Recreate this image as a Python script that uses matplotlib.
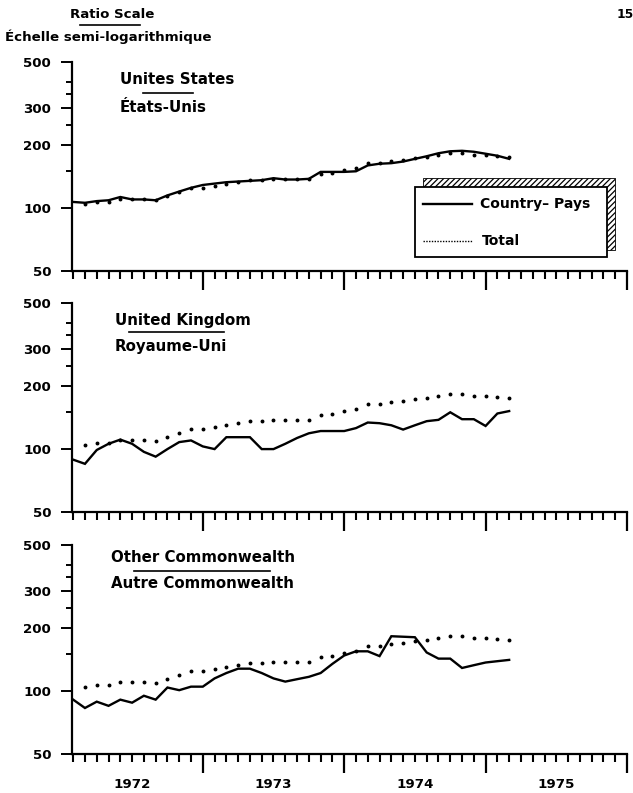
import numpy as np
import matplotlib
matplotlib.use("Agg")
import matplotlib.pyplot as plt
from matplotlib.lines import Line2D
from matplotlib.patches import Rectangle
from matplotlib.ticker import FixedLocator, FixedFormatter, NullFormatter

# monthly index values, month 1 = Feb 1972 ... month 38 = Mar 1975
months = np.arange(1, 39)
us = [107, 106, 108, 109, 113, 110, 110, 109, 115, 120,
      125, 129, 131, 133, 134, 135, 136, 139, 137, 137,
      138, 149, 149, 149, 150, 160, 163, 164, 167, 172,
      177, 183, 187, 188, 186, 182, 178, 172]
uk = [89, 85, 99, 106, 111, 106, 97, 92, 100, 108,
      110, 103, 100, 114, 114, 114, 100, 100, 106, 113,
      119, 122, 122, 122, 126, 134, 133, 130, 124, 130,
      136, 138, 150, 139, 139, 129, 148, 152]
other = [91, 83, 89, 85, 91, 88, 95, 91, 104, 101,
         105, 105, 115, 122, 128, 128, 122, 115, 111, 114,
         117, 122, 135, 148, 155, 155, 147, 183, 182, 181,
         153, 143, 143, 129, 133, 137, 139, 141]
# total starts one month later (Mar 1972)
total_months = np.arange(2, 39)
total = [105, 107, 107, 110, 110, 110, 109, 114, 120, 125,
         125, 127, 130, 134, 136, 136, 138, 138, 138, 138,
         146, 148, 152, 155, 165, 165, 168, 169, 174, 176,
         180, 184, 184, 180, 179, 178, 176]

years = [1972, 1973, 1974, 1975]
y_major = [50, 100, 200, 300, 500]
y_minor = [150, 250, 350, 400]
titles = [("Unites States", "États-Unis"),
          ("United Kingdom", "Royaume-Uni"),
          ("Other Commonwealth", "Autre Commonwealth")]

W, H = 633, 793
FONT = "DejaVu Sans"
plt.rcParams['font.family'] = FONT
plt.rcParams['font.weight'] = 'bold'
plt.rcParams['hatch.linewidth'] = 0.9


def fx(px):
    return px / W


def fy(py):
    return 1 - py / H


def hline(fig, x0, x1, y, lw=1.0):
    fig.add_artist(Line2D([fx(x0), fx(x1)], [fy(y), fy(y)], color='black', lw=lw,
                          transform=fig.transFigure))


fig = plt.figure(figsize=(W / 100, H / 100), dpi=100)

# panel layout in pixels: (top, bottom)
panels = [(62, 271), (303, 512), (545, 754)]
left_px, right_px = 72, 627
title_pos = [(120, 80, 107, 143, 193, 93),
             (115, 320, 347, 129, 224, 332),
             (111, 558, 584, 134, 270, 571)]
series = [us, uk, other]

axes = []
for i, (top, bot) in enumerate(panels):
    ax = fig.add_axes([fx(left_px), fy(bot), (right_px - left_px) / W, (bot - top) / H])
    x = 1972 + months / 12
    xt = 1972 + total_months / 12
    ax.plot(x, series[i], color='black', lw=1.7, solid_joinstyle='miter')
    ax.plot(xt, total, linestyle='none', marker='o', ms=1.8, color='black')

    ax.set_yscale('log')
    ax.set_ylim(50, 500)
    ax.set_xlim(1972.075, 1976.0)

    ax.yaxis.set_major_locator(FixedLocator(y_major))
    ax.yaxis.set_major_formatter(FixedFormatter([str(v) for v in y_major]))
    ax.yaxis.set_minor_locator(FixedLocator(y_minor))
    ax.yaxis.set_minor_formatter(NullFormatter())

    ax.xaxis.set_major_locator(FixedLocator([1973, 1974, 1975, 1976]))
    ax.xaxis.set_major_formatter(NullFormatter())
    ax.xaxis.set_minor_locator(FixedLocator([1972 + k / 12 for k in range(1, 48) if k % 12]))

    for s in ['top', 'right']:
        ax.spines[s].set_visible(False)
    for s in ['left', 'bottom']:
        ax.spines[s].set_linewidth(1.6)

    ax.tick_params(axis='y', which='major', direction='out', length=8, width=1.4,
                   pad=7, labelsize=9.6)
    ax.tick_params(axis='y', which='minor', direction='out', length=4, width=1.4)
    ax.tick_params(axis='x', which='major', direction='out', length=13.5, width=1.6)
    ax.tick_params(axis='x', which='minor', direction='out', length=5.5, width=1.5)
    for lab in ax.get_yticklabels():
        lab.set_fontweight('bold')

    tx, ty1, ty2, lx0, lx1, ly = title_pos[i]
    fig.text(fx(tx), fy(ty1), titles[i][0], fontsize=10.8, fontweight='bold',
             ha='left', va='center')
    fig.text(fx(tx), fy(ty2), titles[i][1], fontsize=10.8, fontweight='bold',
             ha='left', va='center')
    hline(fig, lx0, lx1, ly, lw=1.2)
    axes.append(ax)

# year labels under the bottom panel
for yr in years:
    axes[-1].text(yr + 0.5, -0.145, str(yr), transform=axes[-1].get_xaxis_transform(),
                  ha='center', va='center', fontsize=9.6, fontweight='bold')

# header
fig.text(fx(112), fy(15), "Ratio Scale", fontsize=9.6, fontweight='bold', ha='center', va='center')
hline(fig, 80, 140, 25, lw=1.2)
fig.text(fx(5), fy(37), "Échelle semi-logarithmique", fontsize=9.6, fontweight='bold',
         ha='left', va='center')
fig.text(fx(617), fy(14), "15", fontsize=8.8, fontweight='bold', ha='left', va='center')

# legend with hatched shadow
shadow = Rectangle((fx(423), fy(250)), (615 - 423) / W, (250 - 178) / H,
                   transform=fig.transFigure, facecolor='white', edgecolor='black',
                   hatch='//////', lw=0.6)
fig.add_artist(shadow)
box = Rectangle((fx(415), fy(257)), (607 - 415) / W, (257 - 187) / H,
                transform=fig.transFigure, facecolor='white', edgecolor='black', lw=1.3)
fig.add_artist(box)
fig.add_artist(Line2D([fx(423), fx(472)], [fy(204), fy(204)], color='black', lw=1.7,
                      transform=fig.transFigure))
fig.add_artist(Line2D([fx(423), fx(472)], [fy(241), fy(241)], color='black', lw=1.0,
                      linestyle=(0, (1, 1)), transform=fig.transFigure))
fig.text(fx(480), fy(204), "Country\u2013 Pays", fontsize=10, fontweight='bold',
         ha='left', va='center')
fig.text(fx(482), fy(241), "Total", fontsize=10, fontweight='bold', ha='left', va='center')

fig.savefig("out.png", dpi=100)
